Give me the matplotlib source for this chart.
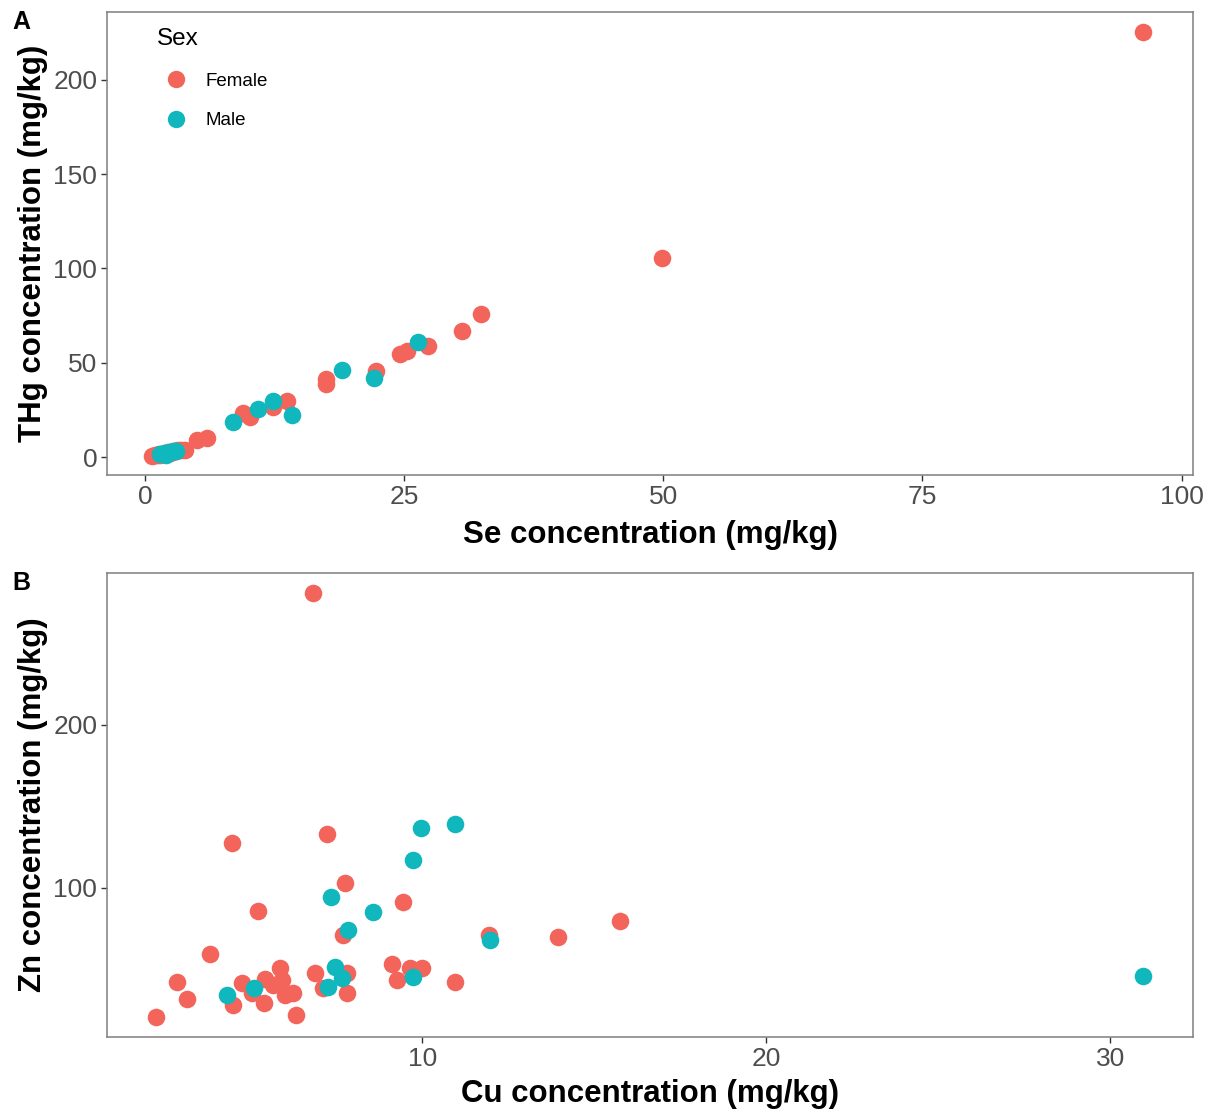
import matplotlib
matplotlib.use("Agg")
import matplotlib.pyplot as plt
from matplotlib.lines import Line2D

plt.rcParams['font.family'] = ['Liberation Sans', 'DejaVu Sans']

FEMALE = '#F3645B'
MALE = '#10B7BC'

# Panel A: Se vs THg
se_female = [0.7, 1.0, 1.2, 1.4, 1.5, 1.8, 2.0, 2.1, 2.2, 2.4, 2.5, 2.6, 2.8, 2.9, 3.0, 3.2, 3.5, 3.9,
             5.0, 6.0, 9.5, 10.1, 12.4, 13.7, 17.5, 17.5, 22.3, 24.6, 25.3, 27.3, 30.6, 32.4, 49.9, 96.3]
thg_female = [0.8, 1.0, 1.2, 1.5, 1.3, 1.8, 2.0, 2.2, 2.5, 2.4, 2.8, 2.6, 3.0, 3.2, 3.3, 3.5, 3.6, 3.7,
              8.8, 10.2, 23.5, 21.0, 26.5, 29.5, 41.5, 38.5, 45.5, 54.5, 56.0, 59.0, 67.0, 76.0, 105.5, 225.5]
se_male = [1.5, 1.8, 2.0, 2.1, 2.4, 2.7, 3.0, 8.5, 10.9, 12.4, 14.2, 19.0, 22.1, 26.3]
thg_male = [1.5, 2.0, 1.2, 2.4, 2.8, 3.2, 3.0, 18.5, 25.5, 29.5, 22.5, 46.0, 42.0, 61.0]

# Panel B: Cu vs Zn
cu_female = [2.27, 2.88, 3.17, 3.84, 4.51, 4.48, 4.77, 5.06, 5.23, 5.41, 5.44, 5.67, 5.87, 5.93, 6.02,
             6.25, 6.34, 6.89, 7.24, 7.12, 7.82, 7.82, 7.76, 7.70, 9.13, 9.27, 9.45, 9.65, 10.0, 10.96,
             11.95, 13.95, 15.76, 6.83]
zn_female = [20.9, 42.3, 31.9, 59.5, 28.2, 127.6, 41.7, 35.6, 85.9, 29.4, 44.2, 40.5, 50.9, 43.6, 34.4,
             35.6, 22.1, 47.9, 133.0, 38.7, 47.9, 35.6, 103.0, 71.2, 53.4, 43.6, 91.4, 50.9, 50.9, 42.3,
             71.2, 70.0, 79.8, 281.0]
cu_male = [4.33, 5.12, 7.27, 7.35, 7.47, 7.67, 7.85, 8.58, 9.74, 9.74, 9.97, 10.96, 11.98, 30.96]
zn_male = [34.4, 38.7, 39.3, 94.5, 51.5, 44.8, 74.2, 85.3, 45.4, 117.0, 137.0, 139.0, 68.0, 46.0]

W, H = 1218, 1118
fig = plt.figure(figsize=(W / 100, H / 100), dpi=100)

def fx(px):
    return px / W

def fy(py):
    return 1 - py / H

axA = fig.add_axes([fx(107), fy(475), fx(1193) - fx(107), fy(12) - fy(475)])
axB = fig.add_axes([fx(107), fy(1037), fx(1193) - fx(107), fy(573) - fy(1037)])

S = 160
tick_color = '#4D4D4D'
border = '#7F7F7F'

def style(ax):
    for sp in ax.spines.values():
        sp.set_color(border)
        sp.set_linewidth(1.1)
    ax.tick_params(axis='both', colors='#333333', labelcolor=tick_color, labelsize=19,
                   length=4, width=1.0, direction='out', pad=3)
    ax.grid(False)

axA.scatter(se_female, thg_female, s=S, color=FEMALE, linewidths=0, zorder=3)
axA.scatter(se_male, thg_male, s=S, color=MALE, linewidths=0, zorder=3)
axA.set_xlim(-3.66, 101.1)
axA.set_ylim(-9.5, 236)
axA.set_xticks([0, 25, 50, 75, 100])
axA.set_yticks([0, 50, 100, 150, 200])
style(axA)
axA.set_xlabel('Se concentration (mg/kg)', fontsize=22.5, fontweight='bold', labelpad=8)
axA.set_ylabel('THg concentration (mg/kg)', fontsize=22.5, fontweight='bold', labelpad=4)

axB.scatter(cu_female, zn_female, s=S, color=FEMALE, linewidths=0, zorder=3)
axB.scatter(cu_male, zn_male, s=S, color=MALE, linewidths=0, zorder=3)
axB.set_xlim(0.84, 32.4)
axB.set_ylim(8.6, 293)
axB.set_xticks([10, 20, 30])
axB.set_yticks([100, 200])
style(axB)
axB.set_xlabel('Cu concentration (mg/kg)', fontsize=22.5, fontweight='bold', labelpad=6)
axB.set_ylabel('Zn concentration (mg/kg)', fontsize=22.5, fontweight='bold', labelpad=4)

# Panel letters
fig.text(fx(12), fy(22), 'A', fontsize=18, fontweight='bold', va='center', ha='left')
fig.text(fx(12), fy(583), 'B', fontsize=18, fontweight='bold', va='center', ha='left')

# Legend
handles = [Line2D([], [], marker='o', linestyle='', markersize=12.5, color=FEMALE, markeredgewidth=0),
           Line2D([], [], marker='o', linestyle='', markersize=12.5, color=MALE, markeredgewidth=0)]
axw = 1193 - 107
leg = axA.legend(handles, ['Female', 'Male'], title='Sex', loc='upper left',
                 bbox_to_anchor=((157 - 107) / axw, 1 - 16 / 463),
                 frameon=False, fontsize=13.5, title_fontsize=17.5, handletextpad=0.6,
                 labelspacing=1.2, borderaxespad=0, borderpad=0, handlelength=2.0)
leg._legend_box.align = 'left'

fig.savefig('out.png', dpi=100)
